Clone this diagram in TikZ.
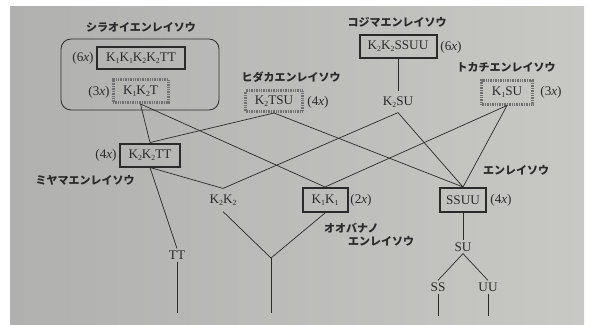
\documentclass[tikz,border=0pt]{standalone}
\usepackage{fontspec}
\setmainfont{Liberation Serif}
\newfontfamily\jpfont{Noto Sans CJK JP}
\newcommand\lo[1]{\raisebox{-0.35ex}{\fontsize{7.8}{7.8}\selectfont #1}}
\newcommand\px[1]{(#1\textit{x})}
\definecolor{ink}{HTML}{2A2A2A}
\definecolor{hatch}{HTML}{707070}
\tikzset{
  base/.style={text=ink, font=\fontsize{13.2}{13.2}\selectfont, inner sep=0pt},
  solidbox/.style={base, draw=ink, line width=2pt},
  hatchbox/.style={base, draw=hatch, line width=3pt, dash pattern=on 0.7pt off 1pt},
  plain/.style={base, inner sep=2pt},
  plainwide/.style={base, inner sep=5pt},
  ploidy/.style={base},
  jplabel/.style={text=ink, inner sep=0pt, font=\jpfont\bfseries\fontsize{11}{11}\selectfont},
  link/.style={draw=ink, line width=0.7pt}
}
\begin{document}
\begin{tikzpicture}[x=1pt, y=-1pt]
\useasboundingbox (0,0) rectangle (589,324);
\fill[white] (0,0) rectangle (589,324);
\shade[left color={rgb,255:red,176;green,177;blue,174}, middle color={rgb,255:red,206;green,207;blue,203}, right color={rgb,255:red,200;green,201;blue,197}] (10,6) rectangle (584,324);

% group frame
\draw[draw=ink, line width=0.8pt, rounded corners=10pt] (61,39) rectangle (219,110);

% titles
\node[jplabel] (tShiraoi) at (141,27) {シラオイエンレイソウ};
\node[jplabel] (tHidaka) at (291,77) {ヒダカエンレイソウ};
\node[jplabel] (tKojima) at (397,22) {コジマエンレイソウ};
\node[jplabel] (tTokachi) at (506,67) {トカチエンレイソウ};
\node[jplabel] (tMiyama) at (85,180) {ミヤマエンレイソウ};
\node[jplabel] (tEnrei) at (516,170) {エンレイソウ};
\node[jplabel, anchor=west] (tOoba1) at (324,228) {オオバナノ};
\node[jplabel, anchor=west] (tOoba2) at (348,241) {エンレイソウ};

% boxes
\node[solidbox, minimum width=88pt, minimum height=22pt] (K11K22TT) at (141,58) {K\lo1K\lo1K\lo2K\lo2TT};
\node[hatchbox, minimum width=55pt, minimum height=23pt] (K1K2T) at (140.5,91) {K\lo1K\lo2T};
\node[hatchbox, minimum width=57pt, minimum height=21pt] (K2TSU) at (274,101) {K\lo2TSU};
\node[solidbox, minimum width=77pt, minimum height=23pt] (K22SSUU) at (398,46) {K\lo2K\lo2SSUU};
\node[hatchbox, minimum width=51pt, minimum height=24pt] (K1SU) at (507,92) {K\lo1SU};
\node[solidbox, minimum width=60pt, minimum height=23pt] (K22TT) at (150,155) {K\lo2K\lo2TT};
\node[solidbox, minimum width=45pt, minimum height=24pt] (K11) at (325,200) {K\lo1K\lo1};
\node[solidbox, minimum width=46pt, minimum height=24pt] (SSUU) at (463,200) {SSUU};

% plain labels
\node[plainwide] (K2SU) at (398,102) {K\lo2SU};
\node[plainwide, inner sep=6pt] (K22) at (223,200) {K\lo2K\lo2};
\node[plain] (TT) at (177,255) {TT};
\node[plain] (SU) at (463,247) {SU};
\node[plain] (SS) at (438,287) {SS};
\node[plain] (UU) at (488,287) {UU};

% ploidy
\node[ploidy] (p1) at (83,58) {\px{6}};
\node[ploidy] (p2) at (99,92) {\px{3}};
\node[ploidy] (p3) at (318,102) {\px{4}};
\node[ploidy] (p4) at (451,47) {\px{6}};
\node[ploidy] (p5) at (551,92) {\px{3}};
\node[ploidy] (p6) at (106,155) {\px{4}};
\node[ploidy] (p7) at (361,200) {\px{2}};
\node[ploidy] (p8) at (501,200) {\px{4}};

% free ends
\coordinate (apex) at (271,258);
\coordinate (endTT) at (177,313);
\coordinate (endAp) at (271,313);
\coordinate (endSS) at (438,316);
\coordinate (endUU) at (488,316);

% connectors
\draw[link] (K1K2T.south) -- (K22TT.north);
\draw[link] (K1K2T.south) -- (K11.north);
\draw[link] (K2TSU.south) -- (K22TT.north);
\draw[link] (K2TSU.south) -- (SSUU.north);
\draw[link] (K22SSUU.south) -- (K2SU.north);
\draw[link] (K2SU.south) -- (K22.north);
\draw[link] (K2SU.south) -- (SSUU.north);
\draw[link] (K1SU.south) -- (K11.north);
\draw[link] (K1SU.south) -- (SSUU.north);
\draw[link] (K22TT.south) -- (K22.north);
\draw[link] (K22TT.south) -- (TT.north);
\draw[link] (TT.south) -- (endTT);
\draw[link] (K22.south) -- (apex);
\draw[link] (K11.south) -- (apex);
\draw[link] (apex) -- (endAp);
\draw[link] (SSUU.south) -- (SU.north);
\draw[link] (SU.south) -- (SS.north);
\draw[link] (SU.south) -- (UU.north);
\draw[link] (SS.south) -- (endSS);
\draw[link] (UU.south) -- (endUU);
\end{tikzpicture}
\end{document}
